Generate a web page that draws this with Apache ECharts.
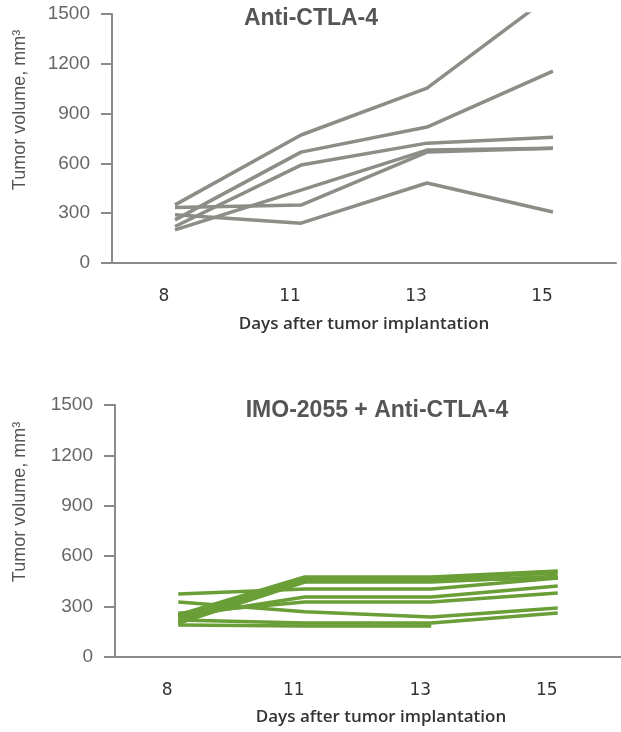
<!DOCTYPE html>
<html>
<head>
<meta charset="utf-8">
<script src="https://cdn.jsdelivr.net/npm/echarts@6/dist/echarts.min.js"></script>
<style>
  html, body { margin: 0; padding: 0; background: #fff; }
  #chart { width: 621px; height: 732px; }
</style>
</head>
<body>
<div id="chart"></div>
<script>
// days after implantation (x categories)
const days = ['8', '11', '13', '15'];

// tumour volume per mouse, mm3 (one array per mouse)
const antiCtla4 = [
    [350, 771, 1053, 1620],
    [260, 668, 819, 1156],
    [220, 590, 722, 758],
    [200, 439, 680, 692],
    [335, 349, 668, 692],
    [290, 240, 482, 307]
];
const imoPlusCtla4 = [
    [375, 405, 405, 470],
    [327, 270, 238, 292],
    [250, 476, 476, 512],
    [230, 466, 466, 500],
    [210, 456, 456, 470],
    [200, 446, 446, 480],
    [240, 357, 357, 423],
    [260, 327, 327, 381],
    [220, 202, 202, 262],
    [190, 185, 185, null]
];

const axisGrey = '#8a8a8a';

function xAxisFor(gridIndex) {
    return {
        type: 'category',
        gridIndex: gridIndex,
        data: days,
        boundaryGap: true,
        axisLine: { lineStyle: { color: axisGrey, width: 2 } },
        axisTick: { length: 5, lineStyle: { color: axisGrey, width: 2 } },
        axisLabel: {
            margin: 25,
            padding: [0, 22, 0, 0],
            color: '#333',
            fontFamily: 'DejaVu Sans',
            fontSize: 17
        }
    };
}

function yAxisFor(gridIndex) {
    return {
        type: 'value',
        gridIndex: gridIndex,
        min: 0,
        max: 1500,
        interval: 300,
        splitLine: { show: false },
        axisLine: { show: true, lineStyle: { color: axisGrey, width: 2 } },
        axisTick: { show: true, length: 11, lineStyle: { color: axisGrey, width: 2 } },
        axisLabel: {
            margin: 22,
            color: '#666',
            fontFamily: 'Liberation Sans',
            fontSize: 19,
            formatter: function (v) { return String(v); }
        }
    };
}

function linesFor(group, gridIndex, color) {
    return group.map(function (mouse) {
        return {
            type: 'line',
            xAxisIndex: gridIndex,
            yAxisIndex: gridIndex,
            data: mouse,
            symbol: 'none',
            clip: true,
            lineStyle: { color: color, width: 3.5 }
        };
    });
}

function label(text, x, y, size, opts) {
    opts = opts || {};
    return {
        type: 'text',
        x: x,
        y: y,
        rotation: opts.rotation || 0,
        style: {
            text: text,
            fill: opts.color || '#333',
            font: (opts.weight || 'normal') + ' ' + size + 'px ' + (opts.family || 'Liberation Sans'),
            align: 'center',
            verticalAlign: 'middle',
            textAlign: 'center',
            textVerticalAlign: 'middle'
        }
    };
}

const chart = echarts.init(document.getElementById('chart'), null, { renderer: 'canvas' });
chart.setOption({
    animation: false,
    backgroundColor: '#fff',
    grid: [
        { left: 112, right: 5, top: 14, bottom: 469 },
        { left: 115, right: -14, top: 405, bottom: 75 }
    ],
    xAxis: [xAxisFor(0), xAxisFor(1)],
    yAxis: [yAxisFor(0), yAxisFor(1)],
    series: linesFor(antiCtla4, 0, '#8b8d86').concat(linesFor(imoPlusCtla4, 1, '#6a9e36')),
    graphic: [
        label('Anti-CTLA-4', 311, 19, 23, { weight: 'bold', color: '#555' }),
        label('IMO-2055 + Anti-CTLA-4', 377, 411, 23, { weight: 'bold', color: '#555' }),
        label('Tumor volume, mm³', 20, 110, 18, { rotation: Math.PI / 2, color: '#555' }),
        label('Tumor volume, mm³', 20, 502, 18, { rotation: Math.PI / 2, color: '#555' }),
        label('Days after tumor implantation', 364, 324, 17, { family: 'Open Sans', color: '#333', weight: '600' }),
        label('Days after tumor implantation', 381, 717, 17, { family: 'Open Sans', color: '#333', weight: '600' })
    ]
});
</script>
</body>
</html>
